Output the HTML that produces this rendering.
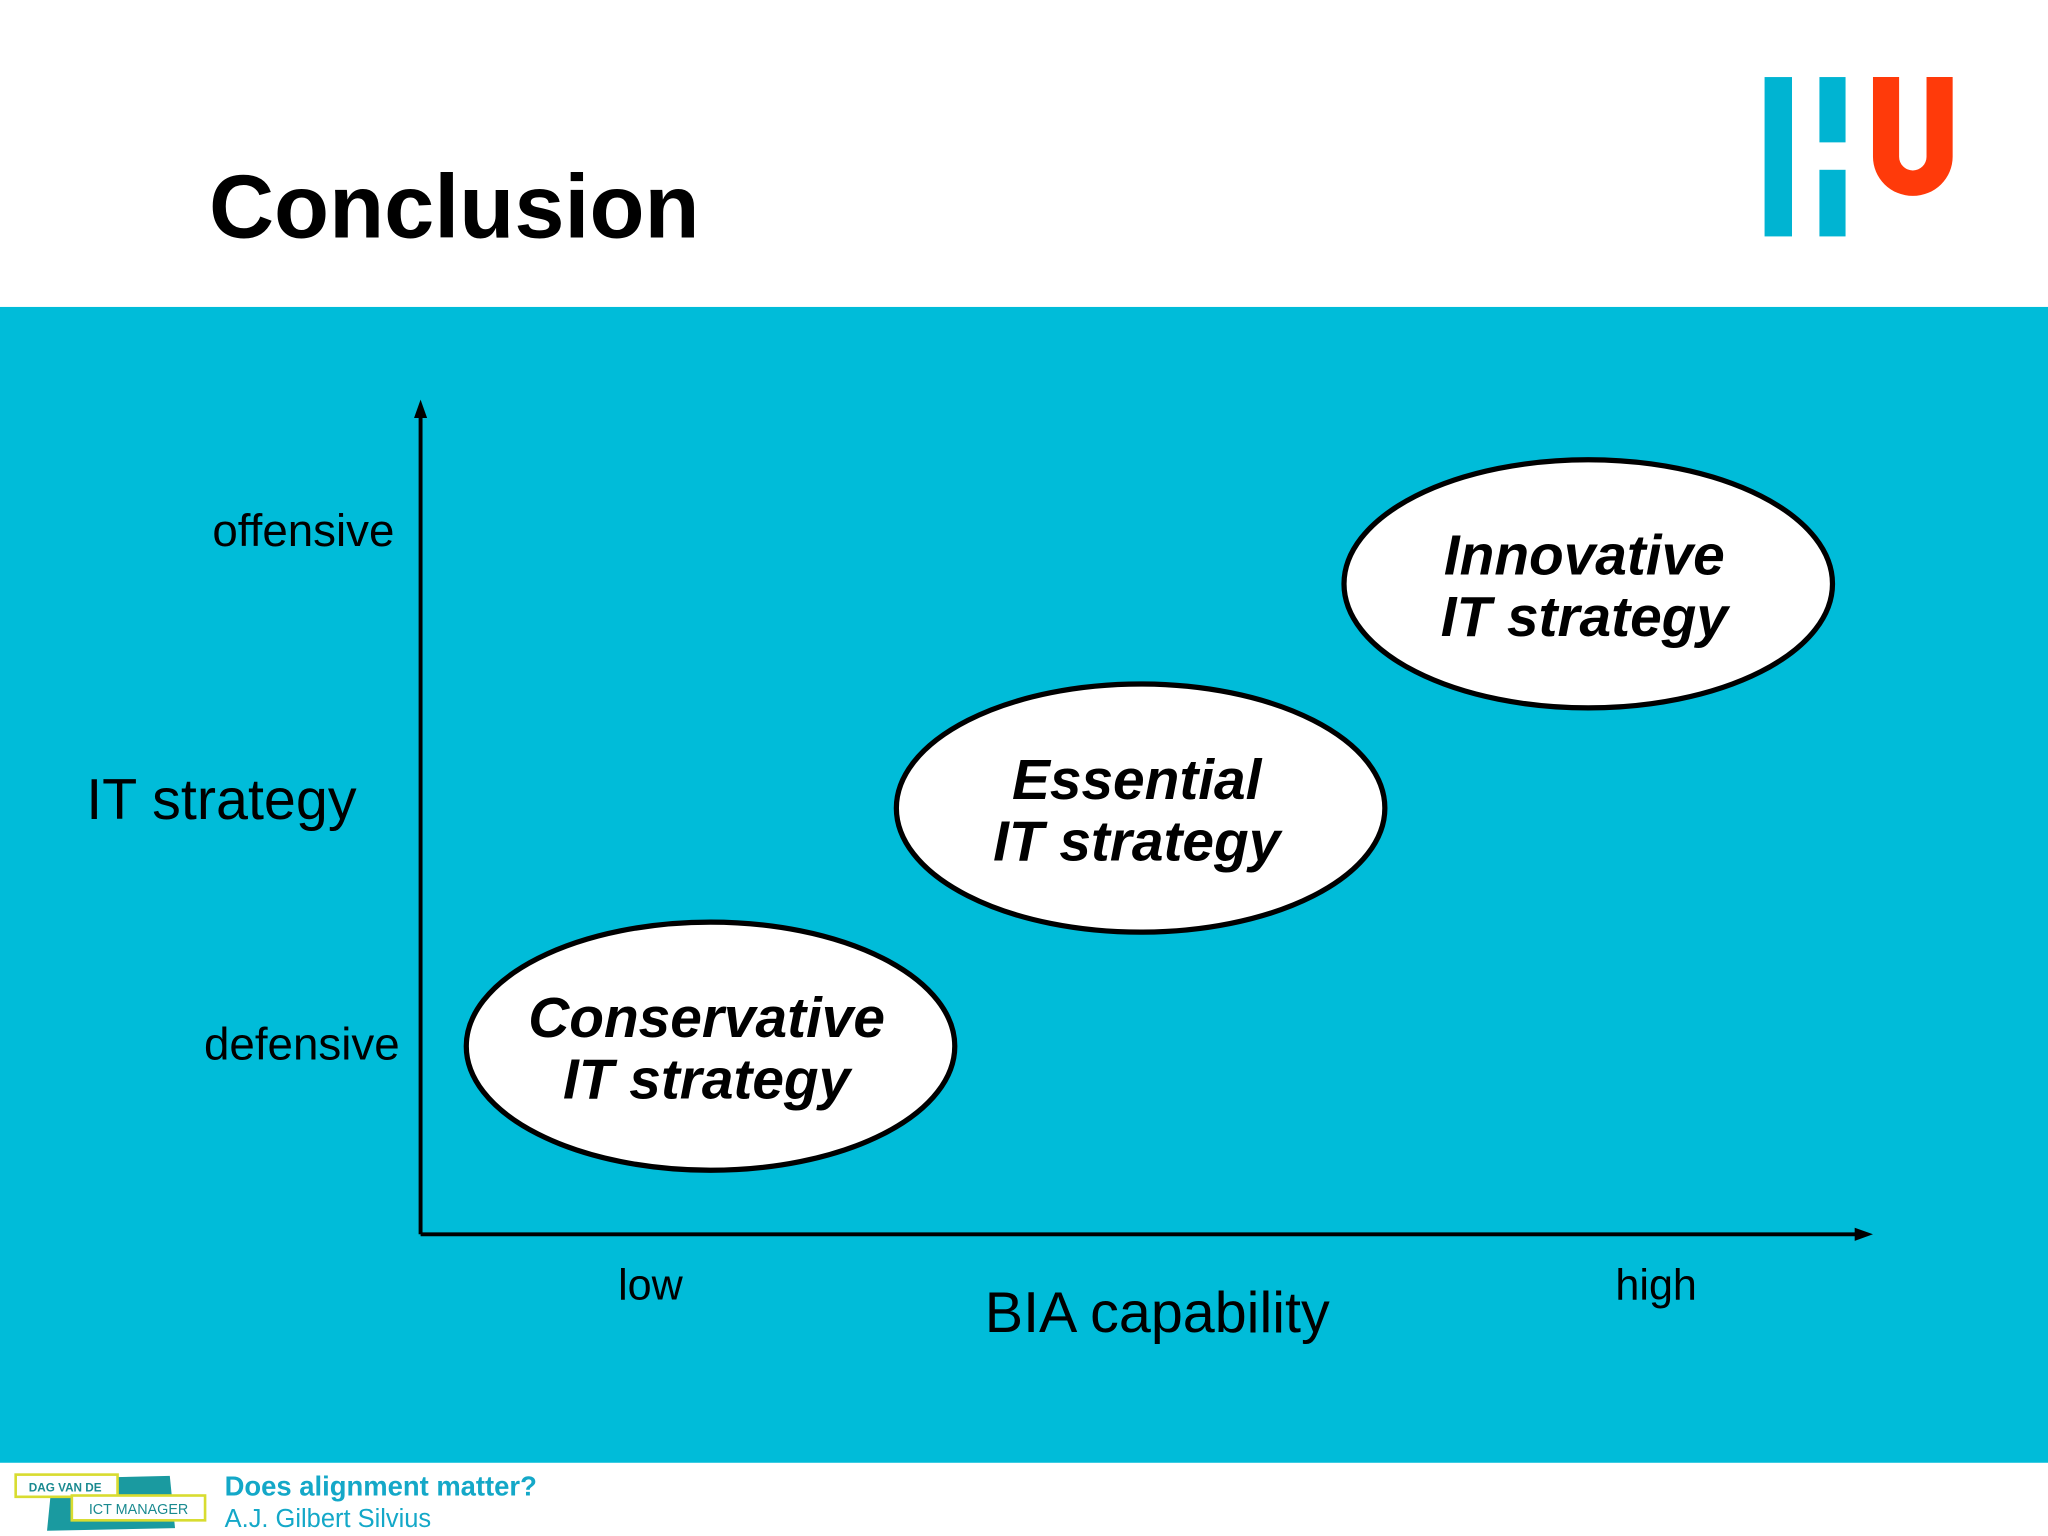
<!DOCTYPE html>
<html><head><meta charset="utf-8"><style>
html,body{margin:0;padding:0;background:#fff;}
svg{display:block;font-family:"Liberation Sans",sans-serif;}
</style></head><body>
<svg id="c" width="2048" height="1536" viewBox="0 0 1568 1176">
<rect x="0" y="0" width="1568" height="235" fill="#fff"/>
<text x="160" y="182" font-size="69" font-weight="bold" fill="#000">Conclusion</text>
<g>
<rect x="1351" y="59" width="21" height="122" fill="#00b4d2"/>
<rect x="1393" y="59" width="20" height="50" fill="#00b4d2"/>
<rect x="1393" y="130" width="20" height="51" fill="#00b4d2"/>
<path d="M1434 59 H1454 V120 A9 9 0 0 0 1475 120 V59 H1495 V120 A30.5 30 0 0 1 1434 120 Z" fill="#ff3a0a"/>
</g>
<rect x="0" y="235" width="1568" height="885" fill="#00bcd9"/>
<g id="axes">
<line x1="322" y1="945" x2="322" y2="316" stroke="#000" stroke-width="3"/>
<polygon points="322,306 317,320 327,320" fill="#000"/>
<line x1="322" y1="945" x2="1424" y2="945" stroke="#000" stroke-width="3"/>
<polygon points="1434,945 1420,940 1420,950" fill="#000"/>
</g>
<text x="302" y="418" font-size="35" text-anchor="end">offensive</text>
<text x="306" y="811" font-size="35" text-anchor="end">defensive</text>
<text x="66" y="627" font-size="44">IT strategy</text>
<text x="498" y="995" font-size="33" text-anchor="middle">low</text>
<text x="1268" y="995" font-size="33" text-anchor="middle">high</text>
<text x="886" y="1020" font-size="44" text-anchor="middle">BIA capability</text>
<g id="marks"></g>
<rect x="0" y="1120" width="1568" height="56" fill="#fff"/>
<g>
<path d="M40 1132 L130 1130 L134 1170 L36 1172 Z" fill="#1a9aa0"/>
<rect x="12" y="1129" width="78" height="17" fill="#fff" stroke="#d8dc30" stroke-width="2"/>
<text x="22" y="1142" font-size="9" font-weight="bold" fill="#1a8a90">DAG VAN DE</text>
<rect x="55" y="1145" width="102" height="19" fill="#fff" stroke="#d8dc30" stroke-width="2"/>
<text x="68" y="1159" font-size="11" fill="#1a8a90">ICT MANAGER</text>
</g>
<text x="172" y="1145" font-size="21" font-weight="bold" fill="#14a8c8">Does alignment matter?</text>
<text x="172" y="1169" font-size="19.5" fill="#14a8c8">A.J. Gilbert Silvius</text>
</svg>
<script>
const strategyNames = ["Conservative", "Essential", "Innovative"];
const biaValues = [1, 1.98, 3];
const strategyValues = [1, 2.03, 3];
function xScale(v){ return 544 + (v-1)*336; }
function yScale(v){ return 801 - (v-1)*177; }
const ns = "http://www.w3.org/2000/svg";
const g = document.getElementById('marks');
strategyNames.forEach((n,i)=>{
  const cx = xScale(biaValues[i]), cy = yScale(strategyValues[i]);
  const grp = document.createElementNS(ns,'g');
  
  
  const e = document.createElementNS(ns,'ellipse');
  e.setAttribute('cx',cx); e.setAttribute('cy',cy);
  e.setAttribute('rx',187); e.setAttribute('ry',95);
  e.setAttribute('fill','#fff'); e.setAttribute('stroke','#000'); e.setAttribute('stroke-width','4');
  grp.appendChild(e);
  [n, "IT strategy"].forEach((t,j)=>{
    const tx = document.createElementNS(ns,'text');
    tx.setAttribute('x',cx-3); tx.setAttribute('y',cy-7+j*47);
    tx.setAttribute('text-anchor','middle'); tx.setAttribute('font-size','43.5');
    tx.setAttribute('font-weight','bold'); tx.setAttribute('font-style','italic');
    tx.textContent = t;
    grp.appendChild(tx);
  });
  g.appendChild(grp);
});
</script>
</body></html>
